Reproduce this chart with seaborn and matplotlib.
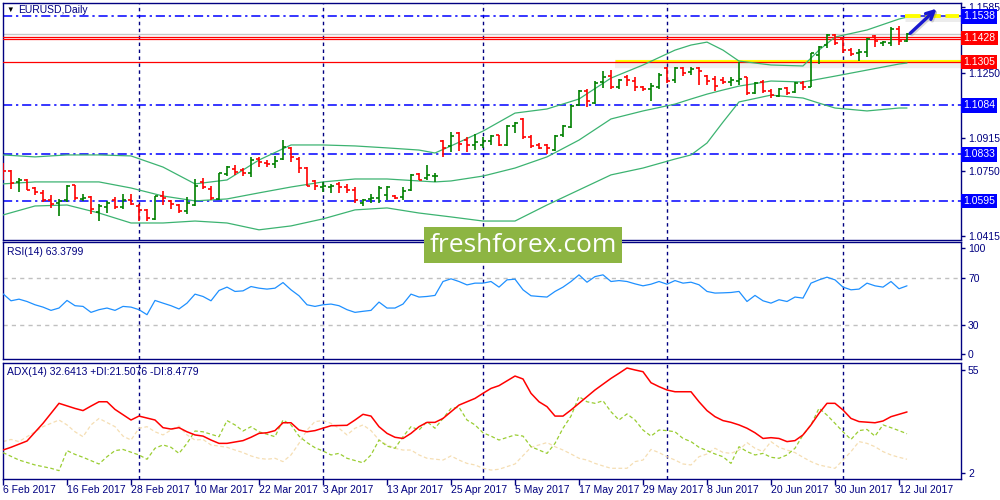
import numpy as np
import matplotlib.pyplot as plt
import seaborn as sns
from matplotlib.patches import Rectangle

# EURUSD daily bars, 6 Feb 2017 .. 13 Jul 2017 (bar index 0..113)
opens = [1.0770, 1.0748, 1.0690, 1.0703, 1.0661, 1.0636, 1.0599, 1.0582, 1.0599, 1.0674,
         1.0607, 1.0614, 1.0538, 1.0565, 1.0599, 1.0565, 1.0599, 1.0569, 1.0548, 1.0501,
         1.0619, 1.0594, 1.0572, 1.0543, 1.0572, 1.0690, 1.0656, 1.0607, 1.0733, 1.0757,
         1.0754, 1.0740, 1.0807, 1.0787, 1.0784, 1.0810, 1.0868, 1.0807, 1.0765, 1.0695,
         1.0664, 1.0666, 1.0683, 1.0666, 1.0653, 1.0586, 1.0606, 1.0611, 1.0623, 1.0619,
         1.0616, 1.0649, 1.0733, 1.0712, 1.0720, 1.0901, 1.0875, 1.0942, 1.0905, 1.0880,
         1.0883, 1.0900, 1.0930, 1.0883, 1.0980, 1.1014, 1.0921, 1.0879, 1.0879, 1.0854,
         1.0930, 1.0972, 1.1084, 1.1157, 1.1094, 1.1202, 1.1236, 1.1178, 1.1229, 1.1207,
         1.1178, 1.1165, 1.1178, 1.1274, 1.1212, 1.1274, 1.1252, 1.1274, 1.1236, 1.1219,
         1.1213, 1.1205, 1.1210, 1.1227, 1.1149, 1.1205, 1.1159, 1.1131, 1.1171, 1.1154,
         1.1200, 1.1179, 1.1341, 1.1392, 1.1443, 1.1426, 1.1366, 1.1349, 1.1358, 1.1438,
         1.1400, 1.1400, 1.1472, 1.1414]
highs = [1.0787, 1.0752, 1.0711, 1.0706, 1.0666, 1.0653, 1.0627, 1.0606, 1.0678, 1.0678,
         1.0632, 1.0619, 1.0577, 1.0594, 1.0616, 1.0632, 1.0632, 1.0577, 1.0552, 1.0622,
         1.0644, 1.0602, 1.0577, 1.0616, 1.0706, 1.0711, 1.0669, 1.0740, 1.0774, 1.0779,
         1.0762, 1.0817, 1.0821, 1.0804, 1.0824, 1.0905, 1.0870, 1.0821, 1.0767, 1.0703,
         1.0690, 1.0683, 1.0690, 1.0683, 1.0666, 1.0606, 1.0628, 1.0673, 1.0673, 1.0623,
         1.0666, 1.0733, 1.0740, 1.0779, 1.0740, 1.0905, 1.0947, 1.0947, 1.0922, 1.0938,
         1.0921, 1.0930, 1.0933, 1.0984, 1.0997, 1.1017, 1.0930, 1.0893, 1.0888, 1.0930,
         1.0984, 1.1084, 1.1162, 1.1165, 1.1207, 1.1257, 1.1262, 1.1219, 1.1241, 1.1229,
         1.1185, 1.1199, 1.1249, 1.1279, 1.1279, 1.1279, 1.1279, 1.1279, 1.1241, 1.1232,
         1.1230, 1.1227, 1.1305, 1.1230, 1.1205, 1.1213, 1.1166, 1.1171, 1.1179, 1.1205,
         1.1210, 1.1353, 1.1387, 1.1448, 1.1448, 1.1431, 1.1375, 1.1370, 1.1426, 1.1443,
         1.1414, 1.1482, 1.1489, 1.1455]
lows = [1.0703, 1.0656, 1.0641, 1.0649, 1.0627, 1.0589, 1.0560, 1.0518, 1.0589, 1.0602,
        1.0597, 1.0527, 1.0493, 1.0535, 1.0555, 1.0552, 1.0572, 1.0493, 1.0493, 1.0498,
        1.0572, 1.0552, 1.0535, 1.0527, 1.0569, 1.0656, 1.0602, 1.0602, 1.0720, 1.0728,
        1.0720, 1.0717, 1.0770, 1.0767, 1.0762, 1.0805, 1.0796, 1.0737, 1.0670, 1.0653,
        1.0639, 1.0636, 1.0633, 1.0633, 1.0582, 1.0569, 1.0582, 1.0582, 1.0602, 1.0606,
        1.0602, 1.0644, 1.0700, 1.0700, 1.0690, 1.0819, 1.0846, 1.0851, 1.0846, 1.0854,
        1.0863, 1.0879, 1.0876, 1.0876, 1.0943, 1.0913, 1.0863, 1.0859, 1.0837, 1.0849,
        1.0921, 1.0967, 1.1078, 1.1073, 1.1089, 1.1173, 1.1168, 1.1165, 1.1182, 1.1157,
        1.1157, 1.1106, 1.1165, 1.1199, 1.1199, 1.1236, 1.1241, 1.1190, 1.1190, 1.1157,
        1.1193, 1.1183, 1.1188, 1.1137, 1.1142, 1.1145, 1.1119, 1.1125, 1.1137, 1.1145,
        1.1162, 1.1176, 1.1295, 1.1375, 1.1392, 1.1349, 1.1336, 1.1312, 1.1329, 1.1383,
        1.1387, 1.1387, 1.1392, 1.1409]
closes = [1.0750, 1.0686, 1.0700, 1.0653, 1.0643, 1.0599, 1.0577, 1.0594, 1.0673, 1.0611,
          1.0611, 1.0552, 1.0569, 1.0585, 1.0565, 1.0599, 1.0577, 1.0547, 1.0505, 1.0619,
          1.0611, 1.0577, 1.0543, 1.0585, 1.0673, 1.0666, 1.0611, 1.0737, 1.0767, 1.0745,
          1.0740, 1.0804, 1.0796, 1.0784, 1.0801, 1.0871, 1.0817, 1.0762, 1.0673, 1.0673,
          1.0670, 1.0673, 1.0666, 1.0653, 1.0602, 1.0599, 1.0611, 1.0661, 1.0666, 1.0611,
          1.0644, 1.0728, 1.0703, 1.0728, 1.0723, 1.0865, 1.0925, 1.0888, 1.0880, 1.0895,
          1.0900, 1.0926, 1.0883, 1.0980, 1.0994, 1.0921, 1.0876, 1.0866, 1.0863, 1.0926,
          1.0977, 1.1081, 1.1157, 1.1106, 1.1199, 1.1229, 1.1178, 1.1212, 1.1215, 1.1178,
          1.1168, 1.1185, 1.1241, 1.1207, 1.1274, 1.1249, 1.1269, 1.1257, 1.1207, 1.1182,
          1.1205, 1.1213, 1.1220, 1.1149, 1.1200, 1.1159, 1.1137, 1.1166, 1.1149, 1.1200,
          1.1179, 1.1349, 1.1383, 1.1443, 1.1400, 1.1366, 1.1346, 1.1358, 1.1421, 1.1414,
          1.1409, 1.1472, 1.1414, 1.1448]

# Bollinger bands at selected bars
bb_idx = [0, 4, 8, 12, 16, 20, 24, 28, 32, 36, 40, 44, 48, 52, 54, 56, 60, 64, 68, 72,
          76, 80, 84, 86, 88, 90, 92, 96, 100, 102, 104, 108, 112, 113]
bb_upper = [1.0830, 1.0820, 1.0830, 1.0830, 1.0825, 1.0768, 1.0682, 1.0702, 1.0804, 1.0881,
            1.0881, 1.0876, 1.0866, 1.0855, 1.0840, 1.0876, 1.0952, 1.1044, 1.1065, 1.1116,
            1.1223, 1.1290, 1.1366, 1.1392, 1.1407, 1.1366, 1.1310, 1.1290, 1.1285, 1.1366,
            1.1433, 1.1469, 1.1525, 1.1535]
bb_middle = [1.0682, 1.0692, 1.0692, 1.0692, 1.0661, 1.0620, 1.0595, 1.0605, 1.0636, 1.0666,
             1.0692, 1.0707, 1.0707, 1.0697, 1.0692, 1.0697, 1.0722, 1.0763, 1.0820, 1.0906,
             1.1014, 1.1055, 1.1090, 1.1116, 1.1141, 1.1162, 1.1182, 1.1208, 1.1203, 1.1218,
             1.1233, 1.1264, 1.1295, 1.1300]
bb_lower = [1.0523, 1.0569, 1.0574, 1.0533, 1.0482, 1.0482, 1.0492, 1.0482, 1.0447, 1.0467,
            1.0503, 1.0549, 1.0559, 1.0533, 1.0523, 1.0513, 1.0492, 1.0492, 1.0574, 1.0651,
            1.0728, 1.0763, 1.0809, 1.0830, 1.0891, 1.0998, 1.1101, 1.1136, 1.1121, 1.1095,
            1.1070, 1.1055, 1.1070, 1.1070]

# RSI(14), one value per bar
rsi = [56.6, 50.6, 52.0, 50.0, 47.2, 45.2, 42.4, 44.4, 50.9, 46.4, 45.8, 40.7, 43.0, 44.4,
       42.4, 45.8, 45.2, 43.0, 38.7, 50.9, 48.6, 46.4, 43.6, 48.6, 56.3, 54.3, 50.6, 59.4,
       62.3, 58.6, 59.1, 62.8, 61.4, 60.6, 61.4, 66.2, 60.0, 54.9, 47.2, 45.8, 47.2, 47.8,
       46.4, 43.0, 40.7, 41.6, 42.4, 49.5, 44.4, 44.4, 47.8, 56.3, 53.8, 54.3, 55.2, 67.1,
       69.4, 67.1, 64.2, 65.7, 65.7, 67.1, 62.3, 68.5, 69.1, 60.0, 54.9, 54.3, 53.8, 58.6,
       62.3, 67.1, 72.8, 66.5, 71.3, 72.8, 67.1, 67.9, 67.1, 65.1, 63.4, 64.8, 67.1, 64.8,
       67.9, 65.7, 66.5, 64.3, 58.6, 57.2, 57.4, 57.7, 58.6, 50.0, 55.2, 50.6, 48.6, 51.5,
       50.0, 53.8, 52.9, 65.7, 68.5, 70.8, 68.5, 62.3, 60.0, 60.6, 65.7, 63.4, 62.3, 67.1,
       60.9, 63.4]

# ADX(14) with +DI / -DI
adx_idx = [0, 1, 3, 5, 7, 9, 10, 11, 12, 13, 14, 16, 17, 19, 20, 21, 22, 23, 24, 25,
           26, 27, 28, 30, 31, 32, 33, 34, 35, 36, 37, 38, 39, 41, 43, 44, 45, 46, 47, 48,
           49, 50, 51, 52, 53, 54, 55, 56, 57, 59, 60, 61, 62, 64, 65, 66, 67, 68, 69, 70,
           71, 72, 73, 74, 76, 77, 78, 79, 80, 81, 82, 83, 84, 86, 87, 88, 89, 90, 91, 92,
           93, 94, 95, 96, 97, 98, 99, 100, 101, 102, 103, 104, 105, 106, 107, 109, 110, 111, 113]
adx = [13.2, 14.6, 17.8, 26.8, 37.0, 34.4, 33.3, 35.6, 37.8, 37.8, 33.9, 28.5, 30.5, 28.5,
       24.6, 23.9, 24.6, 22.5, 20.9, 20.3, 18.3, 16.6, 16.6, 18.0, 19.7, 21.7, 22.0, 23.1,
       27.1, 27.1, 23.4, 22.5, 23.1, 25.6, 25.8, 28.5, 31.4, 30.5, 25.1, 21.7, 19.7, 19.1,
       21.7, 25.1, 27.3, 27.3, 29.3, 32.7, 36.1, 39.5, 42.1, 44.6, 46.0, 50.9, 49.4, 42.1,
       37.8, 35.3, 30.5, 30.5, 33.6, 37.0, 40.4, 43.8, 49.7, 52.3, 55.0, 54.0, 53.1, 47.5,
       45.5, 43.8, 42.9, 42.9, 37.8, 33.3, 30.2, 28.2, 27.3, 26.0, 24.3, 22.0, 19.1, 19.5,
       19.1, 17.5, 18.0, 20.9, 26.0, 31.9, 37.0, 37.0, 33.6, 29.3, 27.7, 27.1, 28.0, 30.2, 32.6]
pdi_idx = [0, 2, 4, 6, 7, 8, 9, 10, 11, 12, 13, 14, 15, 17, 18, 19, 20, 21, 22, 23,
           24, 25, 27, 28, 29, 30, 31, 32, 34, 35, 36, 37, 38, 39, 40, 41, 42, 43, 45, 46,
           47, 48, 49, 50, 51, 52, 53, 54, 55, 56, 57, 58, 59, 60, 61, 62, 64, 65, 66, 67,
           68, 69, 70, 71, 72, 73, 74, 75, 76, 77, 78, 79, 80, 81, 82, 83, 84, 85, 86, 87,
           88, 89, 90, 91, 92, 93, 94, 95, 96, 97, 98, 99, 100, 101, 102, 103, 104, 105, 106, 107,
           108, 109, 110, 111, 112, 113]
pdi = [11.9, 8.1, 5.6, 3.9, 2.7, 12.9, 11.0, 9.5, 7.8, 6.1, 9.8, 12.9, 13.5, 10.7, 8.5, 14.1,
       15.8, 14.6, 11.5, 16.6, 22.9, 22.5, 20.0, 28.2, 26.0, 22.9, 25.1, 22.5, 20.0, 28.5,
       26.0, 20.3, 17.0, 14.4, 12.7, 10.7, 11.5, 9.0, 6.7, 10.7, 18.3, 15.2, 14.1, 20.0,
       25.1, 23.4, 27.7, 24.3, 29.3, 34.4, 35.0, 28.5, 26.0, 22.0, 20.3, 18.3, 20.9, 20.3,
       14.9, 13.2, 11.5, 16.6, 24.3, 30.5, 40.4, 37.8, 37.0, 38.3, 32.7, 28.5, 31.6, 28.5,
       23.4, 20.3, 23.4, 23.1, 22.5, 19.1, 17.5, 14.6, 12.9, 11.2, 9.8, 6.4, 14.9, 12.4,
       10.7, 11.5, 9.5, 9.0, 10.7, 14.1, 20.9, 26.0, 34.5, 31.0, 26.8, 22.5, 18.6, 23.1,
       23.7, 20.3, 26.0, 24.6, 23.1, 21.5]
ndi_idx = [0, 1, 2, 4, 5, 7, 8, 9, 10, 11, 12, 14, 15, 16, 17, 18, 19, 20, 21, 22,
           23, 24, 25, 26, 28, 29, 30, 31, 32, 33, 34, 35, 36, 37, 38, 39, 40, 41, 42, 43,
           44, 45, 46, 47, 48, 49, 50, 51, 52, 53, 55, 56, 57, 58, 59, 60, 61, 62, 64, 66,
           67, 68, 69, 70, 71, 72, 73, 74, 75, 76, 77, 78, 79, 80, 81, 82, 83, 84, 85, 86,
           87, 88, 89, 90, 91, 92, 93, 94, 95, 96, 97, 98, 99, 100, 101, 102, 103, 104, 105, 106,
           107, 108, 109, 110, 111, 112, 113]
ndi = [17.5, 18.6, 17.5, 22.5, 25.1, 28.5, 26.0, 22.5, 20.0, 26.0, 29.3, 25.1, 20.3, 18.3,
       24.3, 25.1, 22.5, 20.9, 23.4, 25.4, 20.9, 18.3, 18.6, 15.8, 14.6, 13.2, 11.9, 10.2,
       9.0, 8.5, 9.0, 7.3, 10.7, 16.6, 23.4, 27.7, 28.2, 26.8, 24.3, 20.9, 24.3, 26.0,
       23.1, 18.3, 15.8, 14.1, 13.2, 13.2, 10.7, 9.0, 8.1, 10.2, 8.1, 6.4, 5.6, 3.9, 3.0,
       3.4, 6.1, 14.6, 15.8, 17.0, 14.9, 13.2, 11.2, 9.0, 8.1, 6.4, 5.1, 3.9, 3.9, 3.9,
       7.3, 8.1, 13.5, 11.9, 9.8, 8.1, 6.1, 5.6, 9.8, 11.2, 14.1, 12.0, 11.5, 13.2, 17.0,
       14.1, 12.4, 17.5, 14.6, 13.2, 11.9, 9.5, 7.3, 5.6, 4.7, 3.9, 8.1, 12.4, 17.5, 16.6,
       14.9, 12.4, 10.7, 9.5, 8.5]

# levels drawn on the chart
blue_levels = [1.1538, 1.1084, 1.0833, 1.0595]
red_levels = [1.1432, 1.1423, 1.1305]
grey_level = 1.1448
box_levels = [1.1538, 1.1428, 1.1305, 1.1084, 1.0833, 1.0595]
box_colors = ['#0000FF', '#FF0000', '#FF0000', '#0000FF', '#0000FF', '#0000FF']
price_ticks = [1.1585, 1.1418, 1.1250, 1.1083, 1.0915, 1.0750, 1.0583, 1.0415]
price_labels = ['1.1585', '', '1.1250', '', '1.0915', '1.0750', '', '1.0415']
target_level = 1.1538

# month separators and date labels (bar index)
sep_idx = [17, 40, 60, 83, 105]
date_idx = [0, 8, 16, 24, 32, 40, 48, 56, 64, 72, 80, 88, 96, 104, 112]
date_labels = ['6 Feb 2017', '16 Feb 2017', '28 Feb 2017', '10 Mar 2017', '22 Mar 2017',
               '3 Apr 2017', '13 Apr 2017', '25 Apr 2017', '5 May 2017', '17 May 2017',
               '29 May 2017', '8 Jun 2017', '20 Jun 2017', '30 Jun 2017', '12 Jul 2017']

sns.set_style('white')
plt.rcParams['font.family'] = ['Liberation Sans', 'DejaVu Sans']

NAVY = '#000080'
XMAX = 119.75

fig = plt.figure(figsize=(10, 5), dpi=100)
ax_p = fig.add_axes([0.003, 0.52, 0.958, 0.474])
ax_r = fig.add_axes([0.003, 0.282, 0.958, 0.234])
ax_a = fig.add_axes([0.003, 0.043, 0.958, 0.232])


def style_panel(ax):
    ax.set_xlim(0, XMAX)
    for s in ax.spines.values():
        s.set_color(NAVY)
        s.set_linewidth(1.0)
    ax.yaxis.tick_right()
    ax.tick_params(axis='y', which='both', right=True, left=False, direction='out',
                   length=3, width=1, colors=NAVY, labelsize=7.5, pad=2)
    ax.tick_params(axis='x', bottom=False, labelbottom=False)
    for i in sep_idx:
        ax.axvline(i, color=NAVY, lw=1.0, ls=(0, (2.5, 2.5)), zorder=1)


for ax in (ax_p, ax_r, ax_a):
    style_panel(ax)

# ---- price panel
idx = np.arange(len(closes))
o, h, l, c = map(np.array, (opens, highs, lows, closes))
cols = np.where(c >= o, '#008000', '#FF0000')

for lvl in blue_levels:
    ax_p.axhline(lvl, color='#0000FF', lw=1.1, ls=(0, (6, 2.5, 1.5, 2.5)), zorder=2)
ax_p.axhline(grey_level, color='#C8C8C8', lw=1.0, zorder=2)
for lvl in red_levels:
    ax_p.axhline(lvl, color='#FF0000', lw=0.9, zorder=3)

# highlighted support line and target segment
ax_p.hlines(1.1296, 76.5, XMAX, color='grey', lw=6, alpha=0.12, zorder=2)
ax_p.hlines(1.1309, 76.5, XMAX, color='#FFFF00', lw=2.2, zorder=2.5)
ax_p.hlines(target_level - 0.0008, 112.8, XMAX, color='grey', lw=5, alpha=0.15, zorder=2)
ax_p.hlines(target_level, 112.8, XMAX - 0.3, color='#FFFF00', lw=2.8,
            linestyles=(0, (4, 1.2)), zorder=6)

for band in (bb_upper, bb_middle, bb_lower):
    sns.lineplot(x=bb_idx, y=band, ax=ax_p, color='#3CB371', linewidth=0.9,
                 estimator=None, sort=False, legend=False, zorder=3)

ax_p.vlines(idx, l, h, colors=cols, lw=1.2, zorder=4)
ax_p.hlines(o, idx - 0.42, idx, colors=cols, lw=1.2, zorder=4)
ax_p.hlines(c, idx, idx + 0.42, colors=cols, lw=1.2, zorder=4)

ax_p.annotate('', xy=(116.9, 1.1572), xytext=(113.6, 1.1446),
              arrowprops=dict(arrowstyle='->', color='grey', lw=2.6, alpha=0.3,
                              mutation_scale=14, shrinkA=0, shrinkB=0), zorder=6)
ax_p.annotate('', xy=(116.7, 1.1578), xytext=(113.4, 1.1452),
              arrowprops=dict(arrowstyle='->', color='#1818D0', lw=2.4,
                              mutation_scale=14, shrinkA=0, shrinkB=0), zorder=7)

ax_p.set_ylim(1.0395, 1.1607)
ax_p.set_yticks(price_ticks)
ax_p.set_yticklabels(price_labels)
ax_p.set_xlabel('')
ax_p.set_ylabel('')
for lvl, col in zip(box_levels, box_colors):
    ax_p.text(1.0022, lvl, f'{lvl:.4f}', transform=ax_p.get_yaxis_transform(),
              ha='left', va='center', color='white', fontsize=7.5, clip_on=False,
              bbox=dict(boxstyle='square,pad=0.22', fc=col, ec='none'), zorder=10)

# ---- RSI panel
for lvl in (70, 30):
    ax_r.axhline(lvl, color='#C0C0C0', lw=1.0, ls=(0, (3, 3)), zorder=2)
sns.lineplot(x=idx, y=rsi, ax=ax_r, color='#1E90FF', linewidth=0.9,
             estimator=None, sort=False, legend=False, zorder=3)
ax_r.set_ylim(0.8, 100.9)
ax_r.set_yticks([95.5, 70, 30, 5.5])
ax_r.set_yticklabels(['100', '70', '30', '0'])
ax_r.set_xlabel('')
ax_r.set_ylabel('')

# ---- ADX panel
sns.lineplot(x=ndi_idx, y=ndi, ax=ax_a, color='#F5DEB3', linewidth=0.9,
             linestyle=(0, (3, 2)), estimator=None, sort=False, legend=False, zorder=2)
sns.lineplot(x=pdi_idx, y=pdi, ax=ax_a, color='#9ACD32', linewidth=0.9,
             linestyle=(0, (3, 2)), estimator=None, sort=False, legend=False, zorder=3)
sns.lineplot(x=adx_idx, y=adx, ax=ax_a, color='#FF0000', linewidth=1.1,
             estimator=None, sort=False, legend=False, zorder=4)
ax_a.set_ylim(-1.3, 57.8)
ax_a.set_yticks([54.0, 1.6])
ax_a.set_yticklabels(['55', '2'])
ax_a.set_xticks(date_idx)
ax_a.set_xticklabels(date_labels, ha='left')
ax_a.tick_params(axis='x', bottom=True, labelbottom=True, direction='out', length=4,
                 width=1, colors=NAVY, labelsize=7.5, pad=1)
ax_a.set_xlabel('')
ax_a.set_ylabel('')

# ---- captions
fig.text(0.006, 0.98, '\u25bc', fontsize=5.5, color='black', va='center', ha='left')
fig.text(0.018, 0.98, 'EURUSD,Daily', fontsize=7.5, color=NAVY, va='center', ha='left')
fig.text(0.007, 1 - 252 / 500, 'RSI(14) 63.3799', fontsize=7.5, color=NAVY,
         va='center', ha='left')
fig.text(0.007, 1 - 372 / 500, 'ADX(14) 32.6413 +DI:21.5076 -DI:8.4779', fontsize=7.5,
         color=NAVY, va='center', ha='left')

# watermark
fig.add_artist(Rectangle((0.424, 1 - 263 / 500), 0.198, 0.072, transform=fig.transFigure,
                         fc='#8DB543', ec='none', zorder=20))
fig.text(0.5235, 1 - 245.5 / 500, 'freshforex.com', fontsize=19, family='Open Sans',
         color='white', ha='center', va='center', zorder=21)

fig.savefig('out.png', dpi=100, facecolor='white')
